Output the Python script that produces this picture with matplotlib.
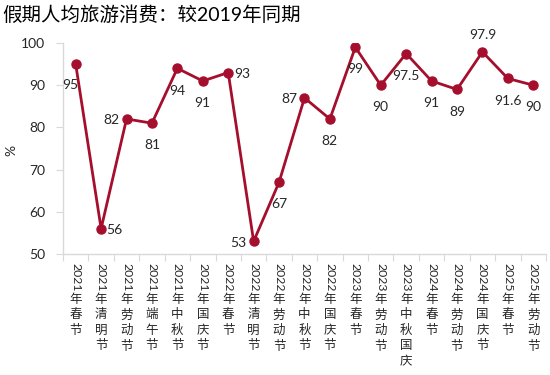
import matplotlib
matplotlib.use("Agg")
import matplotlib.pyplot as plt

plt.rcParams['font.family'] = ['Lato', 'Noto Sans CJK SC', 'DejaVu Sans']

# data
holidays = ["2021年春节", "2021年清明节", "2021年劳动节", "2021年端午节", "2021年中秋节",
            "2021年国庆节", "2022年春节", "2022年清明节", "2022年劳动节", "2022年中秋节",
            "2022年国庆节", "2023年春节", "2023年劳动节", "2023年中秋国庆", "2024年春节",
            "2024年劳动节", "2024年国庆节", "2025年春节", "2025年劳动节"]
values = [95, 56, 82, 81, 94, 91, 93, 53, 67, 87, 82, 99, 90, 97.5, 91, 89, 97.9, 91.6, 90]
value_text = ["95", "56", "82", "81", "94", "91", "93", "53", "67", "87", "82", "99",
              "90", "97.5", "91", "89", "97.9", "91.6", "90"]
y_ticks = [50, 60, 70, 80, 90, 100]

# where each data label sits relative to its point
label_pos = ["below_left", "right", "left", "below", "below", "below", "right", "left",
             "below", "left", "below", "below", "below", "below", "below", "below",
             "above", "below", "below"]
offsets = {
    "below": ((0, -16), "center", "center"),
    "below_left": ((-4, -15), "center", "center"),
    "above": ((0, 12), "center", "center"),
    "left": ((-5, -1), "right", "center"),
    "right": ((4, -1), "left", "center"),
}

RED = "#A50F2D"
GRID = "#D9D9D9"

fig = plt.figure(figsize=(5.5, 3.75), dpi=100)
ax = fig.add_axes([0.1145, 0.3227, 0.9927 - 0.1145, 0.8853 - 0.3227])

x = list(range(len(values)))
ax.plot(x, values, color=RED, linewidth=2.0, marker="o", markersize=6.5, zorder=3)

for xi, v, t, p in zip(x, values, value_text, label_pos):
    off, ha, va = offsets[p]
    ax.annotate(t, (xi, v), xytext=off, textcoords="offset points",
                ha=ha, va=va, fontsize=10, color="#262626")

ax.set_xlim(-0.5, len(values) - 0.5)
ax.set_ylim(50, 100)
ax.set_yticks(y_ticks)
ax.tick_params(axis="y", labelsize=10, length=5, color=GRID, pad=8, labelcolor="#262626")

# ticks sit on the category boundaries, labels are drawn by hand
ax.set_xticks([i - 0.5 for i in range(len(values) + 1)])
ax.set_xticklabels([])
ax.tick_params(axis="x", length=5, color=GRID)

for s in ["top", "right"]:
    ax.spines[s].set_visible(False)
for s in ["left", "bottom"]:
    ax.spines[s].set_color(GRID)
    ax.spines[s].set_linewidth(1.0)

# vertical category labels: year digits rotated, CJK chars stacked upright
trans = ax.get_xaxis_transform()
for xi, lab in zip(x, holidays):
    year, rest = lab[:4], lab[4:]
    ax.annotate(year, (xi, 0), xycoords=trans, xytext=(0, -6.5), textcoords="offset points",
                rotation=-90, ha="center", va="top", fontsize=8.8, color="#262626")
    ax.annotate("\n".join(rest), (xi, 0), xycoords=trans, xytext=(0, -28),
                textcoords="offset points", ha="center", va="top", fontsize=9,
                linespacing=1.35, color="#262626")

fig.text(0.02, 0.6, "%", rotation=90, ha="center", va="center", fontsize=10, color="#262626")
fig.text(0.005, 0.96, "假期人均旅游消费：较2019年同期", ha="left", va="center",
         fontsize=14, color="#000000")

fig.savefig("out.png", dpi=100)
